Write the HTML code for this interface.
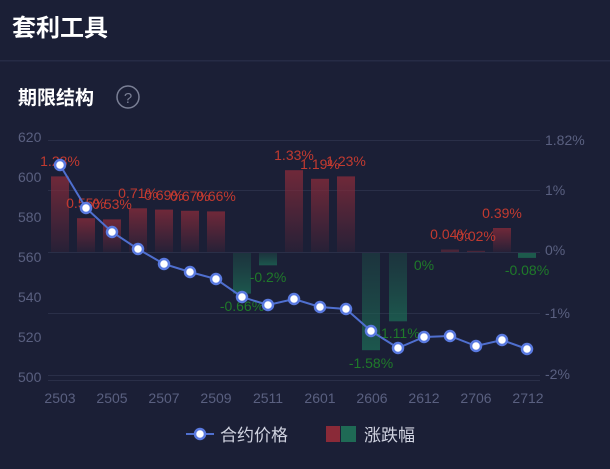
<!DOCTYPE html>
<html><head><meta charset="utf-8"><style>
html,body{margin:0;padding:0;background:#1b1f36;}
body{width:610px;height:464px;overflow:hidden;font-family:"Liberation Sans","Noto Sans CJK SC",sans-serif;}
</style></head><body>
<svg width="610" height="464" viewBox="0 0 610 464" xmlns="http://www.w3.org/2000/svg" font-family="Liberation Sans, Noto Sans CJK SC, sans-serif">
<defs>
<linearGradient id="r" x1="0" y1="0" x2="0" y2="1"><stop offset="0" stop-color="#7e2a3a" stop-opacity="0.85"/><stop offset="1" stop-color="#7e2a3a" stop-opacity="0.12"/></linearGradient>
<linearGradient id="g" x1="0" y1="0" x2="0" y2="1"><stop offset="0" stop-color="#1d5a4c" stop-opacity="0.35"/><stop offset="1" stop-color="#1d6a55" stop-opacity="0.75"/></linearGradient>
</defs>
<rect width="610" height="464" fill="#1b1f36"/>
<text x="12" y="36" fill="#fff" font-size="24" font-weight="bold">套利工具</text>
<rect x="0" y="60" width="610" height="1.5" fill="#262b45"/>
<text x="18" y="104" fill="#fff" font-size="19" font-weight="bold">期限结构</text>
<circle cx="128" cy="97" r="11" fill="none" stroke="#7a7f95" stroke-width="1.5"/>
<text x="128" y="103" fill="#7a7f95" font-size="15" text-anchor="middle">?</text>
<g stroke="#2a2f48" stroke-width="1">
<line x1="48" y1="140.5" x2="540" y2="140.5"/><line x1="48" y1="190.5" x2="540" y2="190.5"/><line x1="48" y1="252.5" x2="540" y2="252.5"/><line x1="48" y1="313.5" x2="540" y2="313.5"/><line x1="48" y1="375.5" x2="540" y2="375.5"/><line x1="48" y1="380.5" x2="540" y2="380.5"/>
</g>
<g fill="#5a6080" font-size="14">
<text x="18" y="142">620</text><text x="18" y="182">600</text><text x="18" y="222">580</text><text x="18" y="262">560</text><text x="18" y="302">540</text><text x="18" y="342">520</text><text x="18" y="382">500</text>
<text x="545" y="145">1.82%</text><text x="545" y="195">1%</text><text x="545" y="255">0%</text><text x="545" y="318">-1%</text><text x="545" y="379">-2%</text>
<g text-anchor="middle"><text x="60" y="403">2503</text><text x="112" y="403">2505</text><text x="164" y="403">2507</text><text x="216" y="403">2509</text><text x="268" y="403">2511</text><text x="320" y="403">2601</text><text x="372" y="403">2606</text><text x="424" y="403">2612</text><text x="476" y="403">2706</text><text x="528" y="403">2712</text></g>
</g>
<g>
<rect x="51" y="176.4" width="18" height="75.6" fill="url(#r)"/>
<rect x="77" y="218.2" width="18" height="33.8" fill="url(#r)"/>
<rect x="103" y="219.4" width="18" height="32.6" fill="url(#r)"/>
<rect x="129" y="208.3" width="18" height="43.7" fill="url(#r)"/>
<rect x="155" y="209.6" width="18" height="42.4" fill="url(#r)"/>
<rect x="181" y="210.8" width="18" height="41.2" fill="url(#r)"/>
<rect x="207" y="211.4" width="18" height="40.6" fill="url(#r)"/>
<rect x="233" y="253" width="18" height="40.6" fill="url(#g)"/>
<rect x="259" y="253" width="18" height="12.3" fill="url(#g)"/>
<rect x="285" y="170.2" width="18" height="81.8" fill="url(#r)"/>
<rect x="311" y="178.8" width="18" height="73.2" fill="url(#r)"/>
<rect x="337" y="176.4" width="18" height="75.6" fill="url(#r)"/>
<rect x="362" y="253" width="18" height="97.2" fill="url(#g)"/>
<rect x="389" y="253" width="18" height="68.3" fill="url(#g)"/>
<rect x="441" y="249.5" width="18" height="2.5" fill="#4a2538"/>
<rect x="467" y="250.8" width="18" height="1.2" fill="#4a2538"/>
<rect x="493" y="228" width="18" height="24" fill="url(#r)"/>
<rect x="518" y="253" width="18" height="4.9" fill="#1d5a4c"/>
</g>
<g font-size="14" text-anchor="middle" fill="#c23a30">
<text x="60" y="166">1.23%</text><text x="86" y="208">0.55%</text><text x="112" y="209">0.53%</text><text x="138" y="198">0.71%</text><text x="164" y="200">0.69%</text><text x="190" y="201">0.67%</text><text x="216" y="201">0.66%</text>
<text x="294" y="160">1.33%</text><text x="320" y="169">1.19%</text><text x="346" y="166">1.23%</text>
<text x="450" y="239">0.04%</text><text x="476" y="241">0.02%</text><text x="502" y="218">0.39%</text>
</g>
<g font-size="14" text-anchor="middle" fill="#1f7a2a">
<text x="242" y="311">-0.66%</text><text x="268" y="282">-0.2%</text><text x="371" y="368">-1.58%</text><text x="398" y="338">-1.11%</text><text x="424" y="270">0%</text><text x="527" y="275">-0.08%</text>
</g>
<polyline fill="none" stroke="#4f6fcf" stroke-width="2" points="60,165 86,208 112,232 138,249 164,264 190,272 216,279 242,297 268,305 294,299 320,307 346,309 371,331 398,348 424,337 450,336 476,346 502,340 527,349"/>
<g fill="#fff" stroke="#5a7ae0" stroke-width="2.5">
<circle cx="60" cy="165" r="5"/><circle cx="86" cy="208" r="5"/><circle cx="112" cy="232" r="5"/><circle cx="138" cy="249" r="5"/><circle cx="164" cy="264" r="5"/><circle cx="190" cy="272" r="5"/><circle cx="216" cy="279" r="5"/><circle cx="242" cy="297" r="5"/><circle cx="268" cy="305" r="5"/><circle cx="294" cy="299" r="5"/><circle cx="320" cy="307" r="5"/><circle cx="346" cy="309" r="5"/><circle cx="371" cy="331" r="5"/><circle cx="398" cy="348" r="5"/><circle cx="424" cy="337" r="5"/><circle cx="450" cy="336" r="5"/><circle cx="476" cy="346" r="5"/><circle cx="502" cy="340" r="5"/><circle cx="527" cy="349" r="5"/>
</g>
<g>
<line x1="186" y1="434" x2="214" y2="434" stroke="#4f6fcf" stroke-width="2"/>
<circle cx="200" cy="434" r="5" fill="#fff" stroke="#5a7ae0" stroke-width="2.5"/>
<text x="220" y="441" fill="#d0d3e0" font-size="17">合约价格</text>
<rect x="326" y="426" width="14" height="16" fill="#8a2a38"/><rect x="341" y="426" width="15" height="16" fill="#1f6a55"/>
<text x="364" y="441" fill="#d0d3e0" font-size="17">涨跌幅</text>
</g>
</svg>
</body></html>
